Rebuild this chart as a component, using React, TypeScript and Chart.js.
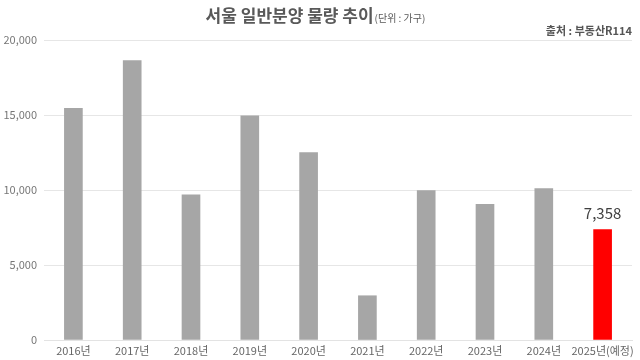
import React, { useEffect, useRef } from "react";
import { Chart, registerables } from "chart.js";

Chart.register(...registerables);

const categories = ["2016년", "2017년", "2018년", "2019년", "2020년", "2021년", "2022년", "2023년", "2024년", "2025년(예정)"];
const supplyValues = [15450, 18620, 9670, 14950, 12500, 2950, 9960, 9050, 10100, 7358];
const barColors = ["#a6a6a6", "#a6a6a6", "#a6a6a6", "#a6a6a6", "#a6a6a6", "#a6a6a6", "#a6a6a6", "#a6a6a6", "#a6a6a6", "#ff0000"];
const yTicks = [0, 5000, 10000, 15000, 20000];
const titleText = "서울 일반분양 물량 추이";
const unitText = "(단위 : 가구)";
const sourceText = "출처 : 부동산R114";

const FONT = '"Noto Sans CJK KR", "Noto Sans", sans-serif';

const textPlugin = {
  id: "texts",
  afterDraw(chart: any) {
    const ctx = chart.ctx;
    ctx.save();
    // title
    ctx.textBaseline = "middle";
    ctx.fillStyle = "#595959";
    ctx.font = `bold 17px ${FONT}`;
    const tw = ctx.measureText(titleText).width;
    ctx.font = `10px ${FONT}`;
    const uw = ctx.measureText(unitText).width;
    const startX = 315 - (tw + uw) / 2;
    ctx.font = `bold 17px ${FONT}`;
    ctx.textAlign = "left";
    ctx.fillText(titleText, startX, 16);
    ctx.font = `10px ${FONT}`;
    ctx.fillText(unitText, startX + tw + 1, 18);
    // source
    ctx.font = `bold 11px ${FONT}`;
    ctx.textAlign = "right";
    ctx.fillStyle = "#555555";
    ctx.fillText(sourceText, 632, 31);
    // value label on last bar
    const meta = chart.getDatasetMeta(0);
    const last = meta.data[meta.data.length - 1];
    const v = supplyValues[supplyValues.length - 1];
    ctx.font = `15px ${FONT}`;
    ctx.textAlign = "center";
    ctx.textBaseline = "alphabetic";
    ctx.fillStyle = "#404040";
    ctx.fillText(v.toLocaleString("en-US"), last.x, last.y - 11);
    ctx.restore();
  },
};

export default function App() {
  const ref = useRef<HTMLCanvasElement>(null);
  useEffect(() => {
    if (!ref.current) return;
    const chart = new Chart(ref.current, {
      type: "bar",
      data: {
        labels: categories,
        datasets: [
          {
            data: supplyValues,
            backgroundColor: barColors,
            barThickness: 18,
          },
        ],
      },
      options: {
        responsive: false,
        animation: false,
        layout: { padding: { top: 40, right: 8, left: 0, bottom: 0 } },
        plugins: {
          legend: { display: false },
          tooltip: { enabled: false },
          title: { display: false },
        },
        scales: {
          x: {
            grid: { display: false, drawTicks: false, tickLength: 0 },
            border: { display: true, color: "#e3e3e3", width: 1 },
            ticks: {
              color: "#666666",
              font: { family: FONT, size: 11 },
              padding: 4,
              maxRotation: 0,
              autoSkip: false,
            },
            afterFit(scale: any) {
              scale.height = 20;
            },
          },
          y: {
            min: 0,
            max: 20000,
            afterBuildTicks(scale: any) {
              scale.ticks = yTicks.map((v) => ({ value: v }));
            },
            grid: { color: "#e6e6e6", drawTicks: false, lineWidth: 1 },
            border: { display: false },
            ticks: {
              color: "#777777",
              font: { family: FONT, size: 11 },
              padding: 7,
              callback: (v: any) => Number(v).toLocaleString("en-US"),
            },
            afterFit(scale: any) {
              scale.width = 44;
            },
          },
        },
      },
      plugins: [textPlugin],
    });
    return () => chart.destroy();
  }, []);
  return (
    <div style={{ position: "absolute", left: 0, top: 0, width: 640, height: 360, background: "#fff" }}>
      <canvas ref={ref} width={640} height={360} />
    </div>
  );
}
